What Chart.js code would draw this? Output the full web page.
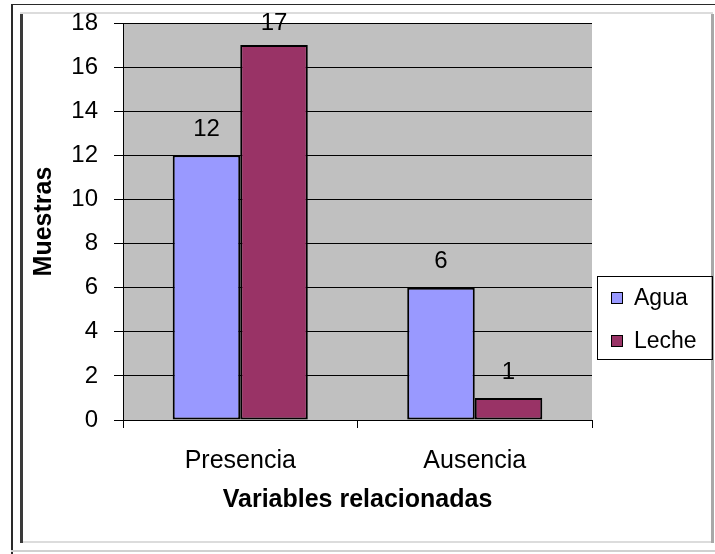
<!DOCTYPE html>
<html>
<head>
<meta charset="utf-8">
<script src="https://cdn.jsdelivr.net/npm/chart.js@4.4.1/dist/chart.umd.min.js"></script>
<style>
  html, body { margin: 0; padding: 0; background: #fff; }
  canvas { display: block; }
</style>
</head>
<body>
<canvas id="chart" width="715" height="554"></canvas>
<script>
// Data
const categories = ['Presencia', 'Ausencia'];
const seriesNames = ['Agua', 'Leche'];
const aguaValues = [12, 6];
const lecheValues = [17, 1];
const seriesColors = ['#9999ff', '#993366'];
const yTicksMax = 18;
const yTicksStep = 2;

const FONT = 'Arial, "Liberation Sans", sans-serif';

// Page frame, grey plot background
const backdrop = {
    id: 'backdrop',
    beforeDraw(chart) {
        const ctx = chart.ctx;
        const a = chart.chartArea;
        ctx.save();
        ctx.fillStyle = '#ffffff';
        ctx.fillRect(0, 0, chart.width, chart.height);

        // outer frame
        ctx.fillStyle = '#2a2a2a';
        ctx.fillRect(11, 4, 704, 1);
        ctx.fillRect(11, 4, 2, 550);
        ctx.fillStyle = '#d0d0d0';
        ctx.fillRect(11, 550, 704, 2);

        // inner frame
        ctx.fillStyle = '#dcdcdc';
        ctx.fillRect(20, 12, 693, 2);
        ctx.fillRect(20, 541, 693, 2);
        ctx.fillStyle = '#3a3a3a';
        ctx.fillRect(20, 14, 3, 529);
        ctx.fillStyle = '#a8a8a8';
        ctx.fillRect(711, 14, 3, 529);

        ctx.fillStyle = '#c0c0c0';
        ctx.fillRect(a.left, a.top, a.right - a.left, a.bottom - a.top);
        ctx.restore();
    }
};

// Value labels above each bar
const valueLabels = {
    id: 'valueLabels',
    afterDatasetsDraw(chart) {
        const ctx = chart.ctx;
        ctx.save();
        ctx.font = '24px ' + FONT;
        ctx.fillStyle = '#000';
        ctx.textAlign = 'center';
        ctx.textBaseline = 'bottom';
        chart.data.datasets.forEach((ds, i) => {
            chart.getDatasetMeta(i).data.forEach((bar, j) => {
                const y = Math.max(bar.y - 14, 35);
                ctx.fillText(String(ds.data[j]), bar.x, y);
            });
        });
        ctx.restore();
    }
};

// Boxed legend on the right
const boxLegend = {
    id: 'boxLegend',
    afterDraw(chart) {
        const ctx = chart.ctx;
        ctx.save();
        ctx.strokeStyle = '#000';
        ctx.lineWidth = 1;
        ctx.strokeRect(597.5, 276.5, 115, 83);
        ctx.font = '23px ' + FONT;
        ctx.textBaseline = 'middle';
        ctx.textAlign = 'left';
        chart.data.datasets.forEach((ds, i) => {
            const cy = 298 + i * 43;
            ctx.fillStyle = ds.backgroundColor;
            ctx.fillRect(611, cy - 6, 12, 12);
            ctx.strokeStyle = '#000';
            ctx.strokeRect(611.5, cy - 5.5, 11, 11);
            ctx.fillStyle = '#000';
            ctx.fillText(ds.label, 634, cy + 1);
        });
        ctx.restore();
    }
};

new Chart(document.getElementById('chart'), {
    type: 'bar',
    data: {
        labels: categories,
        datasets: [
            { label: seriesNames[0], data: aguaValues, backgroundColor: seriesColors[0] },
            { label: seriesNames[1], data: lecheValues, backgroundColor: seriesColors[1] }
        ]
    },
    options: {
        responsive: false,
        animation: false,
        layout: { padding: { top: 23, right: 123, left: 0, bottom: 0 } },
        datasets: {
            bar: {
                borderColor: '#000',
                borderWidth: 2,
                borderSkipped: false,
                categoryPercentage: 0.576,
                barPercentage: 1
            }
        },
        plugins: {
            legend: { display: false },
            tooltip: { enabled: false }
        },
        scales: {
            x: {
                afterFit(scale) {
                    scale.height = 134;
                    scale.paddingLeft = 0;
                    scale.paddingRight = 0;
                },
                grid: {
                    drawOnChartArea: false,
                    drawTicks: true,
                    tickLength: 8,
                    color: '#000'
                },
                border: { color: '#000', width: 1 },
                ticks: {
                    color: '#000',
                    padding: 18,
                    font: { family: FONT, size: 25 }
                },
                title: {
                    display: true,
                    text: 'Variables relacionadas',
                    color: '#000',
                    padding: { top: 0, bottom: 39 },
                    font: { family: FONT, size: 25, weight: 'bold', lineHeight: 1.2 }
                }
            },
            y: {
                min: 0,
                max: yTicksMax,
                afterFit(scale) {
                    scale.width = 123;
                    scale.paddingTop = 0;
                    scale.paddingBottom = 0;
                },
                grid: {
                    color: '#000',
                    lineWidth: 1,
                    drawTicks: true,
                    tickLength: 9
                },
                border: { color: '#000', width: 1 },
                ticks: {
                    stepSize: yTicksStep,
                    color: '#000',
                    padding: 16,
                    font: { family: FONT, size: 24 }
                },
                title: {
                    display: true,
                    text: 'Muestras',
                    color: '#000',
                    padding: { top: 29, bottom: 0 },
                    font: { family: FONT, size: 25, weight: 'bold', lineHeight: 1.2 }
                }
            }
        }
    },
    plugins: [backdrop, valueLabels, boxLegend]
});
</script>
</body>
</html>
